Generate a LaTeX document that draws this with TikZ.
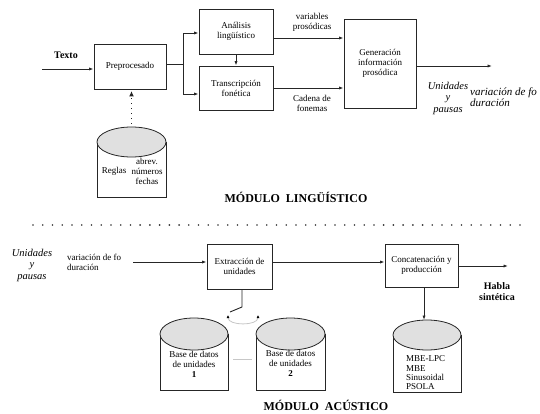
\documentclass[tikz,border=0pt]{standalone}
\usepackage{fontspec}
\setmainfont{Liberation Serif}[ItalicFont={Liberation Serif Italic},BoldFont={Liberation Serif Bold},BoldItalicFont={Liberation Serif Bold Italic}]
\usetikzlibrary{arrows.meta}
\begin{document}
\begin{tikzpicture}[x=1pt,y=-1pt,
  box/.style={draw=black!85, line width=0.8pt, align=center, font=\fontsize{9}{10}\selectfont, inner sep=0pt},
  lbl/.style={align=center, font=\fontsize{9}{10}\selectfont, inner sep=0pt},
  ital/.style={align=center, font=\itshape\fontsize{10.5}{11.5}\selectfont, inner sep=0pt},
  arr/.style={-{Latex[length=4.5pt,width=3.2pt]}, line width=0.9pt, draw=black!85},
  ln/.style={line width=0.9pt, draw=black!85},
  cylfill/.style={fill=black!12, draw=black!85, line width=0.8pt},
  cylbody/.style={fill=white, draw=black!85, line width=0.8pt},
  title/.style={font=\bfseries\fontsize{12}{14}\selectfont, inner sep=0pt},
]
\useasboundingbox (0,0) rectangle (540,414);

% ---------- top module ----------
\node[box, minimum width=72pt, minimum height=45pt] (pre) at (130,66.5) {Preprocesado};
\node[box, minimum width=74pt, minimum height=45pt] (ana) at (236,31.5) {Análisis\\lingüístico};
\node[box, minimum width=74pt, minimum height=44pt] (tra) at (236,88) {Transcripción\\fonética};
\node[box, minimum width=72pt, minimum height=89pt] (gen) at (380,63.5) {Generación\\información\\prosódica};

\node[font=\bfseries\fontsize{10}{12}\selectfont, inner sep=0pt] (texto) at (66,55) {Texto};
\coordinate (tin) at (42,69);
\draw[arr] (tin) -- (tin -| pre.west);

\coordinate (split) at (183,64);
\draw[ln] (pre.east |- split) -- (split);
\draw[arr] (split) |- (ana.west |- 0,33);
\draw[arr] (split) |- (tra.west |- 0,94);
\draw[arr] (ana.south) -- (tra.north);

\draw[arr] (ana.east |- 0,38) -- (gen.west |- 0,38);
\node[lbl] (varpro) at (312,22.5) {variables\\prosódicas};
\draw[arr] (tra.east |- 0,88) -- (gen.west |- 0,88);
\node[lbl] (cadena) at (312,103.5) {Cadena de\\fonemas};

\coordinate (genout) at (492,66);
\draw[arr] (gen.east |- genout) -- (genout);
\node[ital] (uyp1) at (448,98) {Unidades\\y\\pausas};
\node[align=left, anchor=west, inner sep=0pt, font=\itshape\fontsize{11}{11}\selectfont] (vdf1) at (470,97.5) {variación de fo\\duración};

% Reglas cylinder
\draw[cylbody] (97,142) -- (97,197) -- (166,197) -- (166,142);
\draw[cylfill] (131.5,142) ellipse (34.5pt and 15pt);
\node[lbl] (reglas) at (114,171) {Reglas};
\node[lbl] (abrev) at (147,171) {abrev.\\números\\fechas};
\coordinate (regtop) at (131.5,124);
\draw[line width=1.1pt, black!85, dash pattern=on 1.3pt off 3.7pt, -{Latex[length=5.5pt,width=5pt]}] (regtop) -- (131.5,91);

\node[title] (t1) at (296,197) {MÓDULO\ \ LINGÜÍSTICO};

% separator
\foreach \i in {0,...,50} \fill[black!80] (33+\i*9.74,225) circle (0.9pt);

% ---------- bottom module ----------
\node[box, minimum width=65pt, minimum height=45pt] (ext) at (239.5,266.5) {Extracción de\\unidades};
\node[box, minimum width=73pt, minimum height=43pt] (con) at (421.5,265.5) {Concatenación y\\producción};

\node[ital] (uyp2) at (32,265) {Unidades\\y\\pausas};
\node[lbl, align=left, anchor=west] (vdf2) at (67,262) {variación de fo\\duración};
\coordinate (ein) at (133,262);
\draw[arr] (ein) -- (ein -| ext.west);
\draw[arr] (ext.east |- ein) -- (con.west |- ein);
\coordinate (hout) at (508,266);
\draw[arr] (con.east |- hout) -- (hout);
\node[font=\bfseries\fontsize{10}{11}\selectfont, align=center, inner sep=0pt] (habla) at (497,291.5) {Habla\\sintética};

% MBE cylinder
\draw[cylbody] (393,335) -- (393,392) -- (461,392) -- (461,335);
\draw[cylfill] (427,335) ellipse (34pt and 15pt);
\coordinate (mbetop) at (424,320);
\draw[arr] (con.south -| mbetop) -- (mbetop);
\node[lbl, align=left, anchor=west, font=\fontsize{9}{9.3}\selectfont] (mbe) at (406,373) {MBE-LPC\\MBE\\Sinusoidal\\PSOLA};

% database cylinders
\draw[cylbody] (160,334) -- (160,390) -- (228,390) -- (228,334);
\draw[cylfill] (194,334) ellipse (34pt and 16pt);
\draw[cylbody] (256,334) -- (256,390) -- (325,390) -- (325,334);
\draw[cylfill] (290.5,334) ellipse (34.5pt and 16pt);
\node[lbl] (db1) at (194,364) {Base de datos\\de unidades\\\textbf{1}};
\node[lbl] (db2) at (290.5,363) {Base de datos\\de unidades\\\textbf{2}};
\draw[black!22, line width=1pt] (233,359) -- (252,359);

% switch
\coordinate (sw1) at (242,307);
\coordinate (sw2) at (230,312);
\draw[ln] (ext.south -| sw1) -- (sw1) -- (sw2);
\draw[black!22, line width=0.8pt, {Latex[black,length=3pt,width=3pt]}-{Latex[black,length=3pt,width=3pt]}] (228,315) .. controls (228,326) and (258,326) .. (258,315);

\node[title] (t2) at (326,405) {MÓDULO\ \ ACÚSTICO};
\end{tikzpicture}
\end{document}
